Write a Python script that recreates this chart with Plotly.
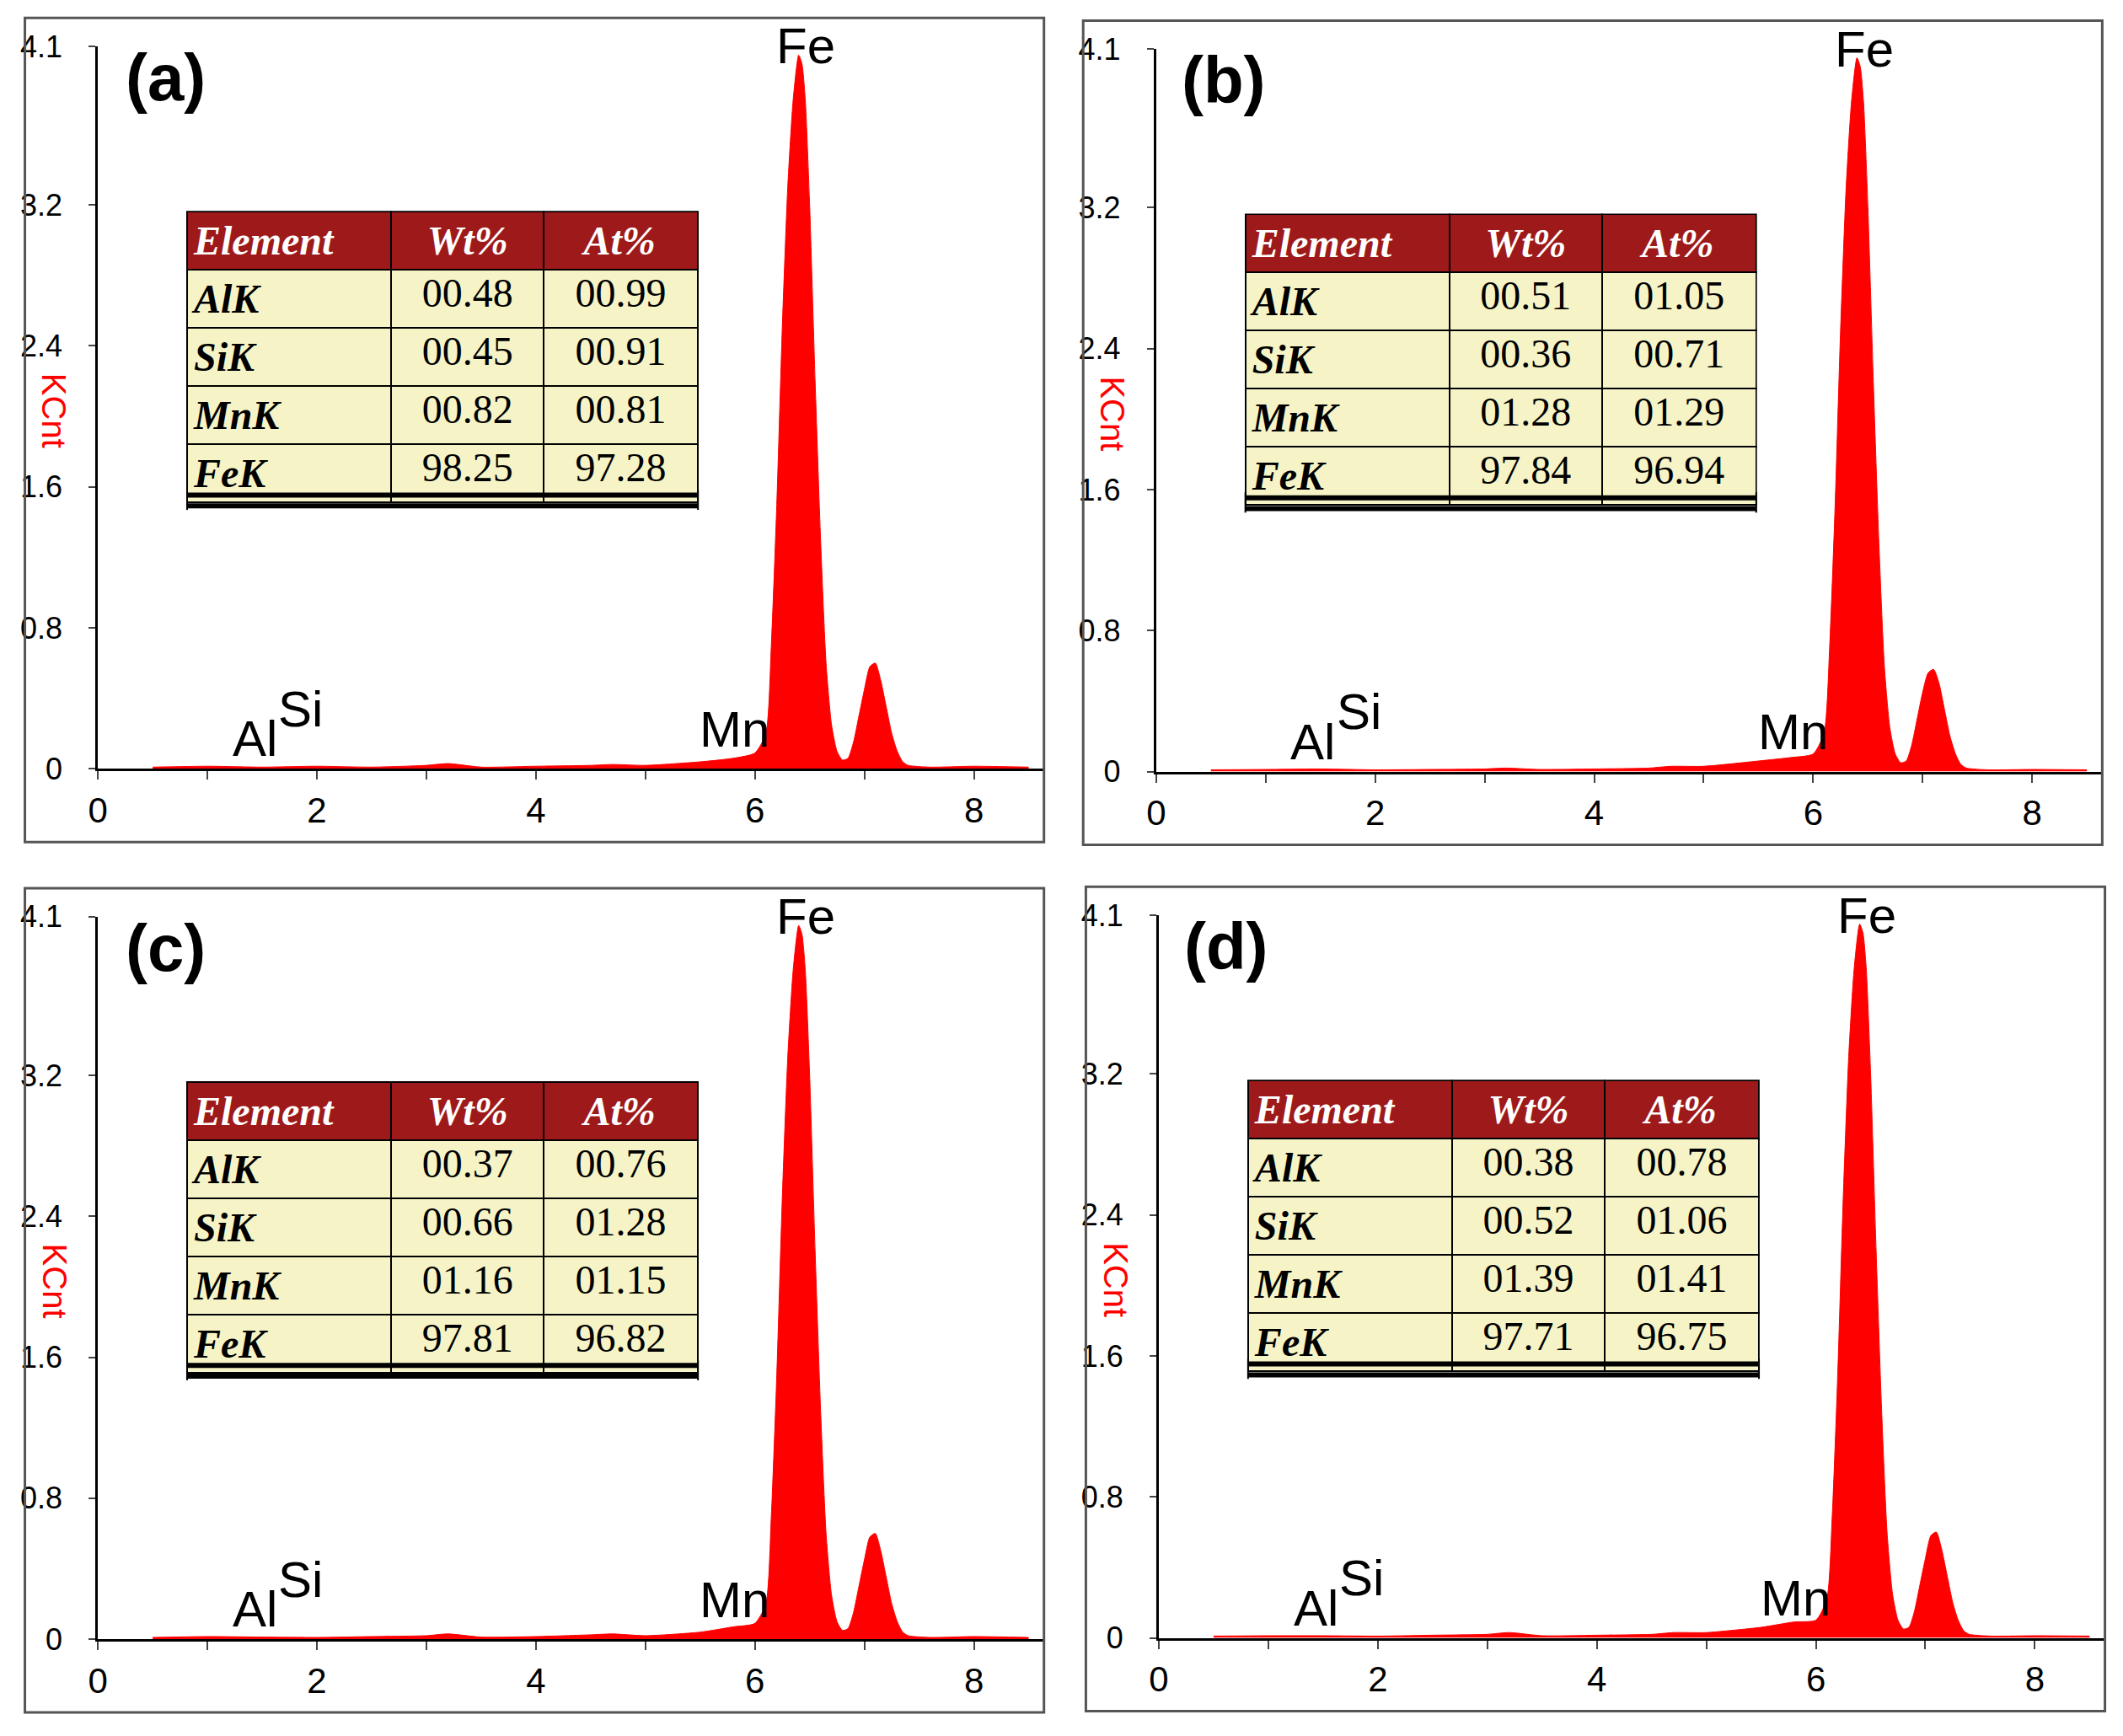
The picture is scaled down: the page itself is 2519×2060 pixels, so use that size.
import plotly.graph_objects as go

# spectrum (energy in keV, KCnt)
energy = [0.5, 1.0, 1.5, 2.0, 2.5, 3.0, 3.2, 3.5, 4.0, 4.5, 4.7, 5.0, 5.5, 5.8, 6.0, 6.1, 6.15,
          6.2, 6.25, 6.3, 6.35, 6.4, 6.43, 6.46, 6.5, 6.55, 6.6, 6.65, 6.7, 6.75, 6.8, 6.85,
          6.9, 6.95, 7.0, 7.05, 7.1, 7.15, 7.2, 7.25, 7.3, 7.35, 7.4, 7.6, 8.0, 8.5]
counts_a = [0.01, 0.015, 0.01, 0.015, 0.01, 0.02, 0.03, 0.01, 0.015, 0.02, 0.025, 0.02, 0.04, 0.06, 0.09, 0.2, 0.7,
            1.5, 2.5, 3.3, 3.8, 4.05, 4.0, 3.8, 3.2, 2.2, 1.3, 0.6, 0.25, 0.1, 0.05, 0.06,
            0.15, 0.3, 0.45, 0.58, 0.6, 0.5, 0.35, 0.2, 0.1, 0.04, 0.02, 0.01, 0.015, 0.01]
counts_b = [0.01, 0.012, 0.015, 0.01, 0.012, 0.015, 0.02, 0.012, 0.015, 0.02, 0.03, 0.03, 0.06, 0.08, 0.1, 0.22, 0.7,
            1.5, 2.5, 3.3, 3.8, 4.05, 4.0, 3.8, 3.2, 2.2, 1.3, 0.6, 0.25, 0.1, 0.05, 0.06,
            0.15, 0.3, 0.45, 0.56, 0.58, 0.5, 0.35, 0.2, 0.1, 0.04, 0.02, 0.01, 0.012, 0.01]
counts_c = [0.01, 0.015, 0.012, 0.01, 0.015, 0.02, 0.03, 0.012, 0.015, 0.025, 0.03, 0.02, 0.04, 0.07, 0.09, 0.2, 0.7,
            1.5, 2.5, 3.3, 3.8, 4.05, 4.0, 3.8, 3.2, 2.2, 1.3, 0.6, 0.25, 0.1, 0.05, 0.06,
            0.15, 0.3, 0.45, 0.58, 0.6, 0.5, 0.35, 0.2, 0.1, 0.04, 0.02, 0.01, 0.015, 0.01]
counts_d = [0.01, 0.012, 0.012, 0.01, 0.015, 0.02, 0.03, 0.012, 0.015, 0.02, 0.03, 0.03, 0.06, 0.09, 0.1, 0.22, 0.7,
            1.5, 2.5, 3.3, 3.8, 4.05, 4.0, 3.8, 3.2, 2.2, 1.3, 0.6, 0.25, 0.1, 0.05, 0.06,
            0.15, 0.3, 0.45, 0.58, 0.6, 0.5, 0.35, 0.2, 0.1, 0.04, 0.02, 0.01, 0.012, 0.01]
spectra = [counts_a, counts_b, counts_c, counts_d]
panel_labels = ["(a)", "(b)", "(c)", "(d)"]

elements = ["AlK", "SiK", "MnK", "FeK"]
wt = [["00.48", "00.45", "00.82", "98.25"], ["00.51", "00.36", "01.28", "97.84"],
      ["00.37", "00.66", "01.16", "97.81"], ["00.38", "00.52", "01.39", "97.71"]]
at = [["00.99", "00.91", "00.81", "97.28"], ["01.05", "00.71", "01.29", "96.94"],
      ["00.76", "01.28", "01.15", "96.82"], ["00.78", "01.06", "01.41", "96.75"]]

y_ticks = [0, 0.8, 1.6, 2.4, 3.2, 4.1]
x_ticks = [0, 1, 2, 3, 4, 5, 6, 7, 8]
x_text = ["0", "", "2", "", "4", "", "6", "", "8"]

# layout measured on a 1568x1282 copy of the picture
W, H = 1568.0, 1282.0
offsets = [(0, 0), (783, 2), (0, 642), (785, 641)]


def px(x):
    return (16 + (x - 26) / 0.997) / W


def py(y):
    return 1 - (12 + (y - 28) / 0.979) / H


fig = go.Figure()
shapes, annos = [], []
for i in range(4):
    dx, dy = offsets[i]
    n = str(i + 1) if i else ""
    fig.add_trace(go.Scatter(x=energy, y=spectra[i], mode="lines", fill="tozeroy",
                             line=dict(color="#ff0000", width=1, shape="spline", smoothing=0.6),
                             fillcolor="#ff0000",
                             xaxis="x" + n, yaxis="y" + n, showlegend=False))
    fig.update_layout({
        "xaxis" + n: dict(domain=[px(70 + dx), px(770 + dx)], range=[0, 8.64], anchor="y" + n,
                          tickvals=x_ticks, ticktext=x_text, ticks="outside", ticklen=10,
                          tickwidth=2, showline=True, linecolor="black", linewidth=3,
                          showgrid=False, zeroline=False, tickfont=dict(size=42, color="black")),
        "yaxis" + n: dict(domain=[py(566 + dy), py(33 + dy)], range=[0, 4.1], anchor="x" + n,
                          tickvals=y_ticks, ticks="outside", ticklen=8, tickwidth=2,
                          showline=True, linecolor="black", linewidth=3, showgrid=False,
                          zeroline=False, ticklabelstandoff=24,
                          tickfont=dict(size=36, color="black")),
    })
    # frame
    shapes.append(dict(type="rect", xref="paper", yref="paper", x0=px(16 + dx), x1=px(770 + dx),
                       y0=py(620 + dy), y1=py(12 + dy), line=dict(color="#555", width=3)))
    # table
    fig.add_trace(go.Table(
        domain=dict(x=[px(136 + dx), px(514 + dx)], y=[py(375 + dy), py(155 + dy)]),
        columnwidth=[151, 113, 114],
        header=dict(values=["<b><i>Element</i></b>", "<b><i>Wt%</i></b>", "<b><i>At%</i></b>"],
                    fill_color="#9e1a1a", line=dict(color="black", width=2), height=64,
                    align=["left", "center", "center"],
                    font=dict(family="Liberation Serif", size=48, color="white")),
        cells=dict(values=[["<b><i>%s</i></b>" % e for e in elements], wt[i], at[i]],
                   fill_color="#f6f4c6", line=dict(color="black", width=2), height=64,
                   align=["left", "center", "center"],
                   font=dict(family="Liberation Serif", size=48, color="black"))))
    for yy in (364, 372):
        shapes.append(dict(type="line", xref="paper", yref="paper", x0=px(136 + dx), x1=px(514 + dx),
                           y0=py(yy + dy), y1=py(yy + dy), line=dict(color="black", width=6)))
    for xx in (136, 514):
        shapes.append(dict(type="line", xref="paper", yref="paper", x0=px(xx + dx), x1=px(xx + dx),
                           y0=py(360 + dy), y1=py(375 + dy), line=dict(color="black", width=2)))
    # text labels
    for txt, x, y, size, bold, col, ang in [
        (panel_labels[i], 120, 56, 78, True, "black", 0),
        ("Fe", 594, 33, 60, False, "black", 0),
        ("Mn", 541, 537, 60, False, "black", 0),
        ("Al", 186, 544, 60, False, "black", 0),
        ("Si", 220, 522, 60, False, "black", 0),
        ("KCnt", 38, 302, 40, False, "red", 90),
    ]:
        annos.append(dict(text="<b>%s</b>" % txt if bold else txt, xref="paper", yref="paper",
                          x=px(x + dx), y=py(y + dy), xanchor="center", yanchor="middle",
                          showarrow=False, textangle=ang,
                          font=dict(family="Liberation Sans", size=size, color=col)))

fig.update_layout(width=2519, height=2060, margin=dict(l=0, r=0, t=0, b=0),
                  paper_bgcolor="white", plot_bgcolor="white", shapes=shapes, annotations=annos,
                  font=dict(family="Liberation Sans"))
fig.write_html("out.html")
